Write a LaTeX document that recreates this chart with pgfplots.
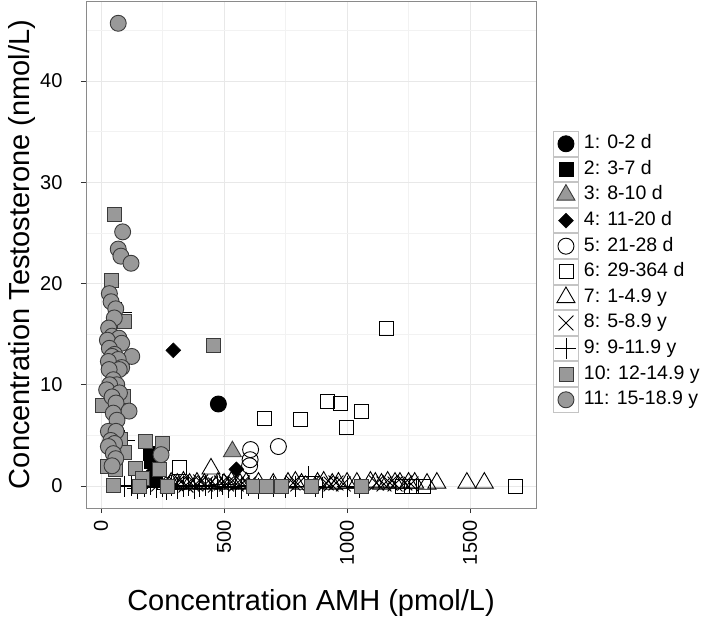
\documentclass[border=0pt]{standalone}
\usepackage{fontspec}
\setmainfont{Liberation Sans}
\usepackage{pgfplots}
\pgfplotsset{compat=1.18}

\definecolor{gfill}{HTML}{999999}
\definecolor{gedge}{HTML}{3A3A3A}
\definecolor{keyframe}{HTML}{C4C4C4}
\definecolor{panelframe}{HTML}{8A8A8A}

% ggplot-like legend key: a framed square with the mark in the middle
\pgfplotsset{
  boxkey/.style={legend image code/.code={
      \draw[draw=keyframe, fill=white, line width=0.9pt, solid, mark=none] (-12.5pt,-12.35pt) rectangle (12.5pt,12.35pt);
      \draw plot coordinates {(0pt,0pt)};
  }},
  pt/.style={only marks, boxkey, mark options={solid, line width=0.9pt}},
}

\begin{document}
\begin{tikzpicture}
\useasboundingbox (-86pt,-110pt) rectangle (623pt,508pt);
\begin{axis}[
  scale only axis,
  width=450pt, height=507pt,
  xmin=-61, xmax=1768, ymin=-2.17, ymax=47.9,
  xtick={0,500,1000,1500}, ytick={0,10,20,30,40},
  minor xtick={250,750,1250}, minor ytick={5,15,25,35,45},
  grid=both,
  major grid style={draw=black!9, line width=0.9pt},
  minor grid style={draw=black!5, line width=0.6pt},
  minor tick length=0pt,
  major tick length=5pt,
  tick align=outside,
  xtick pos=left, ytick pos=left,
  tick style={draw=black!80, line width=0.9pt},
  axis line style={draw=panelframe, line width=0.9pt},
  /pgf/number format/assume math mode=true,
  /pgf/number format/1000 sep={},
  ticklabel style={font=\fontsize{20}{21}\selectfont},
  xticklabel style={yshift=-4pt, rotate=90, anchor=east},
  yticklabel style={xshift=-15pt},
  every axis x label/.style={at={(axis description cs:0.5,-0.2012)}, anchor=base, font=\fontsize{29}{30}\selectfont},
  every axis y label/.style={at={(axis description cs:-0.1422,0.5)}, rotate=90, anchor=center, font=\fontsize{29}{30}\selectfont},
  xlabel={Concentration AMH (pmol/L)},
  ylabel={Concentration Testosterone (nmol/L)},
  legend cell align=left,
  legend style={at={(axis description cs:1.0378,0.7436)}, anchor=north west,
    draw=none, fill=none, inner sep=0pt, outer sep=0pt,
    row sep=0pt, column sep=5pt,
    font=\fontsize{19.5}{20}\selectfont,
    nodes={inner sep=0pt, text height=14pt, text depth=4pt}},
]

% 1: 0-2 d
\addplot[pt, mark=*, mark size=8pt, draw=black, fill=black] coordinates {
(477,8.1) (210,1.0)
};
\addlegendentry{1: 0-2 d}

% 2: 3-7 d
\addplot[pt, mark=square*, mark size=7pt, draw=black, fill=black] coordinates {
(200,3.2) (205,2.4) (222,0.6)
};
\addlegendentry{2: 3-7 d}

% 3: 8-10 d
\addplot[pt, mark=triangle*, mark size=10.4pt, draw=gedge, fill=gfill] coordinates {
(534,3.4)
};
\addlegendentry{3: 8-10 d}

% 4: 11-20 d
\addplot[pt, mark=square*, mark size=5.3pt, mark options={rotate=45}, draw=black, fill=black] coordinates {
(294,13.4) (550,1.65)
};
\addlegendentry{4: 11-20 d}

% 5: 21-28 d
\addplot[pt, mark=o, mark size=8pt, draw=black] coordinates {
(608,3.6) (606,2.6) (604,2.0) (721,3.9)
};
\addlegendentry{5: 21-28 d}

% 6: 29-364 d
\addplot[pt, mark=square, mark size=7pt, draw=black] coordinates {
(663,6.7) (811,6.6) (919,8.4) (972,8.2) (1060,7.4) (999,5.8) (1160,15.6)
(1683,0.0) (1225,0.0) (1262,0.0) (1312,0.0) (320,1.8)
};
\addlegendentry{6: 29-364 d}

% 7: 1-4.9 y
\addplot[pt, mark=triangle, mark size=10.4pt, draw=black] coordinates {
(285,0.3) (310,0.2) (335,0.4) (360,0.2) (390,0.3) (420,0.2) (447,1.7)
(475,0.3) (500,0.2) (530,0.4) (565,0.2) (590,0.3) (640,0.3) (700,0.2)
(760,0.3) (790,0.4) (815,0.2) (880,0.3) (905,0.4) (940,0.2) (965,0.3)
(1000,0.3) (1040,0.3) (1095,0.4) (1115,0.3) (1140,0.2) (1165,0.4)
(1195,0.3) (1215,0.3) (1250,0.3) (1275,0.3) (1325,0.2) (1365,0.3)
(1487,0.3) (1558,0.3)
};
\addlegendentry{7: 1-4.9 y}

% 8: 5-8.9 y
\addplot[pt, mark=x, mark size=10.5pt, draw=black] coordinates {
(235,0.2) (255,0.4) (270,0.1) (290,0.3) (305,0.2) (325,0.4) (345,0.1)
(365,0.3) (385,0.2) (405,0.4) (425,0.2) (445,0.3) (465,0.1) (490,0.3)
(510,0.2) (530,0.4) (550,0.2) (575,0.3) (600,0.2) (780,0.3) (800,0.2)
(860,0.3) (915,0.3) (935,0.2) (955,0.3) (985,0.2) (1120,0.3) (1150,0.2)
(1175,0.3) (1195,0.2) (1235,0.3) (1260,0.2)
};
\addlegendentry{8: 5-8.9 y}

% 9: 9-11.9 y
\addplot[pt, mark=+, mark size=10.5pt, draw=black] coordinates {
(95,0.0) (125,0.1) (150,-0.2) (175,0.0) (200,0.2) (225,-0.1) (250,0.0)
(265,-0.3) (285,0.1) (310,-0.2) (335,0.0) (355,0.1) (380,-0.2) (400,0.0)
(425,0.1) (450,-0.2) (475,0.0) (495,0.2) (520,-0.1) (545,0.0) (570,-0.2)
(600,0.1) (640,-0.2) (700,0.0) (750,-0.1) (790,0.0) (843,0.9) (870,0.0)
(900,-0.1) (1000,0.0) (1050,-0.1) (85,17.1) (70,9.0) (95,4.5) (75,12.0)
};
\addlegendentry{9: 9-11.9 y}

% 10: 12-14.9 y
\addplot[pt, mark=square*, mark size=7pt, draw=gedge, fill=gfill] coordinates {
(54,26.8) (43,20.3) (95,16.3) (459,13.85) (7,8.0) (90,8.8) (80,4.6)
(95,3.3) (180,4.4) (251,4.2) (142,1.75) (169,0.76) (237,1.65) (271,0.0)
(50,0.1) (27,1.9) (57,1.6) (158,0.0) (619,0.0) (674,0.0) (732,0.0)
(857,0.0) (1060,0.0)
};
\addlegendentry{10: 12-14.9 y}

% 11: 15-18.9 y
\addplot[pt, mark=*, mark size=8pt, draw=gedge, fill=gfill] coordinates {
(70,45.7) (88,25.1) (70,23.4) (81,22.7) (122,22.0) (34,19.0) (41,18.2)
(60,17.5) (54,16.6) (31,15.6) (45,14.8) (73,14.6) (26,14.4) (84,14.1)
(34,13.6) (55,13.0) (125,12.8) (45,12.8) (70,12.5) (30,12.3) (84,11.7)
(74,11.5) (33,11.5) (50,10.5) (64,10.0) (35,10.0) (23,9.5) (75,9.2)
(45,8.8) (61,8.2) (114,7.4) (50,7.2) (65,6.5) (30,5.4) (61,5.4)
(40,4.5) (55,4.2) (30,3.9) (50,3.2) (244,3.1) (60,2.7) (45,2.0)
};
\addlegendentry{11: 15-18.9 y}

\node[anchor=base west, font=\fontsize{20}{22}\selectfont, inner sep=0pt]
  at (axis description cs:1.0378,0.7436) [yshift=7pt] {Group};
\end{axis}
\end{tikzpicture}
\end{document}
